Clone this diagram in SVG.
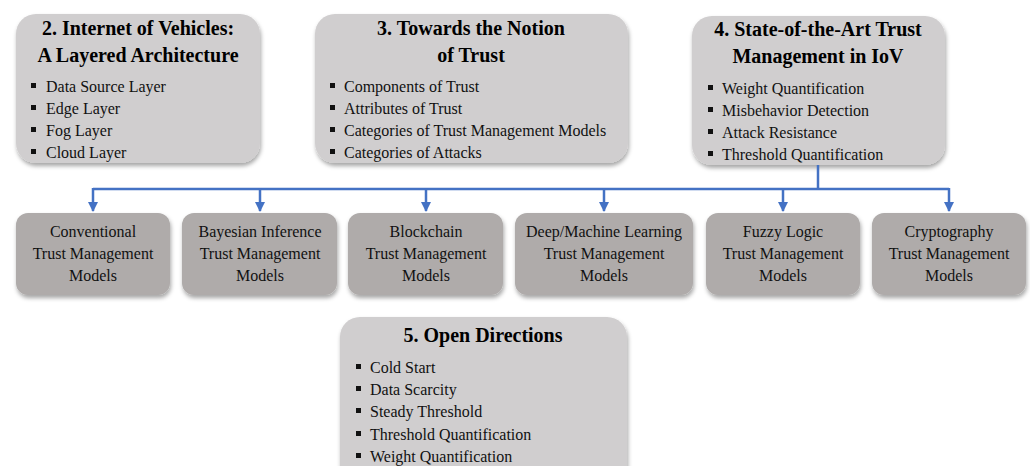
<svg xmlns="http://www.w3.org/2000/svg" width="1030" height="466" viewBox="0 0 1030 466">
  <defs>
    <filter id="shadow" x="-10%" y="-10%" width="125%" height="130%">
      <feDropShadow dx="1" dy="3" stdDeviation="2" flood-color="#000" flood-opacity="0.35"/>
    </filter>
    <marker id="arrow" viewBox="0 0 10 10" refX="9" refY="5" markerWidth="4" markerHeight="4" orient="auto">
      <path d="M0,0 L10,5 L0,10 z" fill="#4472c4"/>
    </marker>
  </defs>
  <style>
    .section { fill: #d0cecf; filter: url(#shadow); }
    .model { fill: #afabaa; filter: url(#shadow); }
    .title { font-family: "Liberation Serif", "Times New Roman", serif; font-weight: bold; font-size: 20px; fill: #000; text-anchor: middle; }
    .item { font-family: "Liberation Serif", "Times New Roman", serif; font-size: 16px; fill: #111; }
    .label { font-family: "Liberation Serif", "Times New Roman", serif; font-size: 16px; fill: #111; text-anchor: middle; }
    .dot { fill: #111; }
    .link { fill: none; stroke: #4472c4; stroke-width: 2.5; }
  </style>
  <rect width="1030" height="466" fill="#fff"/>

  <!-- Section 2 -->
  <g id="sec2">
    <rect class="section" x="16" y="14" width="244" height="149" rx="20"/>
    <text class="title" x="138" y="35">2. Internet of Vehicles:</text>
    <text class="title" x="138" y="62">A Layered Architecture</text>
    <rect class="dot" x="31" y="83" width="5" height="5"/>
    <text class="item" x="46" y="92">Data Source Layer</text>
    <rect class="dot" x="31" y="105" width="5" height="5"/>
    <text class="item" x="46" y="114">Edge Layer</text>
    <rect class="dot" x="31" y="127" width="5" height="5"/>
    <text class="item" x="46" y="136">Fog Layer</text>
    <rect class="dot" x="31" y="149" width="5" height="5"/>
    <text class="item" x="46" y="158">Cloud Layer</text>
  </g>

  <!-- Section 3 -->
  <g id="sec3">
    <rect class="section" x="315" y="14" width="313" height="149" rx="20"/>
    <text class="title" x="471" y="35">3. Towards the Notion</text>
    <text class="title" x="471" y="62">of Trust</text>
    <rect class="dot" x="330" y="83" width="5" height="5"/>
    <text class="item" x="344" y="92">Components of Trust</text>
    <rect class="dot" x="330" y="105" width="5" height="5"/>
    <text class="item" x="344" y="114">Attributes of Trust</text>
    <rect class="dot" x="330" y="127" width="5" height="5"/>
    <text class="item" x="344" y="136">Categories of Trust Management Models</text>
    <rect class="dot" x="330" y="149" width="5" height="5"/>
    <text class="item" x="344" y="158">Categories of Attacks</text>
  </g>

  <!-- Section 4 -->
  <g id="sec4">
    <rect class="section" x="692" y="16" width="253" height="149" rx="20"/>
    <text class="title" x="818" y="36">4. State-of-the-Art Trust</text>
    <text class="title" x="818" y="63">Management in IoV</text>
    <rect class="dot" x="708" y="85" width="5" height="5"/>
    <text class="item" x="722" y="94">Weight Quantification</text>
    <rect class="dot" x="708" y="107" width="5" height="5"/>
    <text class="item" x="722" y="116">Misbehavior Detection</text>
    <rect class="dot" x="708" y="129" width="5" height="5"/>
    <text class="item" x="722" y="138">Attack Resistance</text>
    <rect class="dot" x="708" y="151" width="5" height="5"/>
    <text class="item" x="722" y="160">Threshold Quantification</text>
  </g>

  <!-- Connectors from section 4 to the model categories -->
  <g id="connectors">
    <path class="link" d="M818,165 V189"/>
    <path class="link" d="M93,189 H949"/>
    <path class="link" d="M93,188 V211" marker-end="url(#arrow)"/>
    <path class="link" d="M260,188 V211" marker-end="url(#arrow)"/>
    <path class="link" d="M426,188 V211" marker-end="url(#arrow)"/>
    <path class="link" d="M604,188 V211" marker-end="url(#arrow)"/>
    <path class="link" d="M783,188 V211" marker-end="url(#arrow)"/>
    <path class="link" d="M949,188 V211" marker-end="url(#arrow)"/>
  </g>

  <!-- Model categories -->
  <g id="conventional">
    <rect class="model" x="16" y="213" width="154" height="82" rx="12"/>
    <text class="label" x="93" y="237">Conventional</text>
    <text class="label" x="93" y="259">Trust Management</text>
    <text class="label" x="93" y="281">Models</text>
  </g>
  <g id="bayesian">
    <rect class="model" x="182" y="213" width="155" height="82" rx="12"/>
    <text class="label" x="260" y="237">Bayesian Inference</text>
    <text class="label" x="260" y="259">Trust Management</text>
    <text class="label" x="260" y="281">Models</text>
  </g>
  <g id="blockchain">
    <rect class="model" x="348" y="213" width="155" height="82" rx="12"/>
    <text class="label" x="426" y="237">Blockchain</text>
    <text class="label" x="426" y="259">Trust Management</text>
    <text class="label" x="426" y="281">Models</text>
  </g>
  <g id="deep-learning">
    <rect class="model" x="515" y="213" width="178" height="82" rx="12"/>
    <text class="label" x="604" y="237">Deep/Machine Learning</text>
    <text class="label" x="604" y="259">Trust Management</text>
    <text class="label" x="604" y="281">Models</text>
  </g>
  <g id="fuzzy">
    <rect class="model" x="706" y="213" width="154" height="82" rx="12"/>
    <text class="label" x="783" y="237">Fuzzy Logic</text>
    <text class="label" x="783" y="259">Trust Management</text>
    <text class="label" x="783" y="281">Models</text>
  </g>
  <g id="cryptography">
    <rect class="model" x="872" y="213" width="154" height="82" rx="12"/>
    <text class="label" x="949" y="237">Cryptography</text>
    <text class="label" x="949" y="259">Trust Management</text>
    <text class="label" x="949" y="281">Models</text>
  </g>

  <!-- Section 5 -->
  <g id="sec5">
    <rect class="section" x="340" y="317" width="287" height="170" rx="20"/>
    <text class="title" x="483" y="342">5. Open Directions</text>
    <rect class="dot" x="356" y="364" width="5" height="5"/>
    <text class="item" x="370" y="373">Cold Start</text>
    <rect class="dot" x="356" y="386" width="5" height="5"/>
    <text class="item" x="370" y="395">Data Scarcity</text>
    <rect class="dot" x="356" y="408" width="5" height="5"/>
    <text class="item" x="370" y="417">Steady Threshold</text>
    <rect class="dot" x="356" y="431" width="5" height="5"/>
    <text class="item" x="370" y="440">Threshold Quantification</text>
    <rect class="dot" x="356" y="453" width="5" height="5"/>
    <text class="item" x="370" y="462">Weight Quantification</text>
  </g>
</svg>
